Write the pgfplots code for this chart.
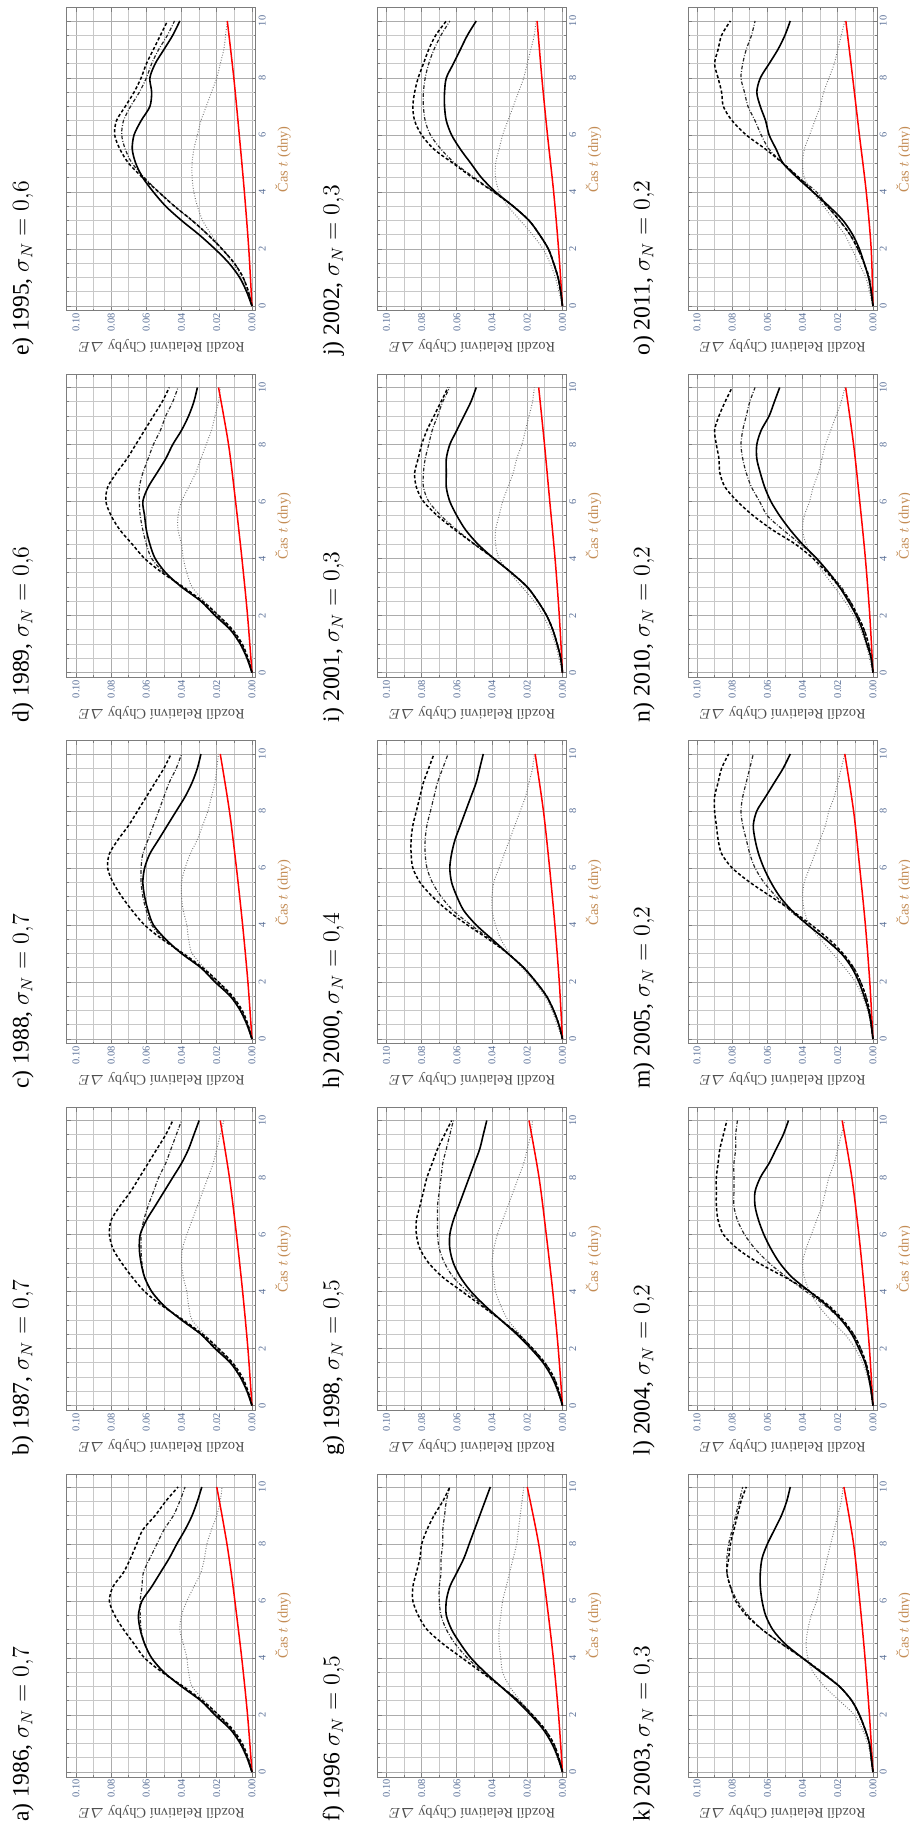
\documentclass[border=0pt]{standalone}
\usepackage{amsmath}
\usepackage{fontspec}
\setmainfont{Liberation Serif}
\usepackage{pgfplots}
\usepackage{pgfplotstable}
\pgfplotsset{compat=1.18}

\definecolor{ticknum}{RGB}{88,110,150}
\definecolor{labelgray}{RGB}{80,80,80}
\definecolor{caslabel}{RGB}{195,140,85}
\definecolor{gridmaj}{RGB}{172,172,172}
\definecolor{gridmin}{RGB}{200,200,200}
\definecolor{axisgray}{RGB}{125,125,125}
\definecolor{dotgray}{RGB}{115,115,115}

\newcommand\tickfont{\fontsize{5.2}{6}\selectfont}
\newcommand\labelfont{\fontsize{7.2}{8}\selectfont}
\newcommand\titlefont{\fontsize{11.8}{13}\selectfont}

% each panel: rows t (days) and the four black/grey curves of Delta E
% s = solid, d = dashed, c = dash-dotted, p = dotted
\pgfplotstableread{
n r0 r1 r2 r3 r4 r5 r6 r7 r8 r9 r10 r11 r12 r13 r14 r15 r16 r17 r18 r19 r20
t 0 0.5 1 1.5 2 2.5 3 3.5 4 4.5 5 5.5 6 6.5 7 7.5 8 8.5 9 9.5 10
s 0 0.0028 0.0066 0.0123 0.021 0.029 0.040 0.050 0.057 0.061 0.0635 0.0645 0.0625 0.057 0.052 0.047 0.0427 0.038 0.034 0.031 0.0285
d 0 0.0022 0.0055 0.011 0.019 0.028 0.039 0.051 0.061 0.067 0.073 0.078 0.081 0.079 0.073 0.069 0.0655 0.062 0.055 0.049 0.042
c 0 0.0025 0.006 0.0115 0.020 0.029 0.040 0.050 0.057 0.061 0.063 0.0635 0.0635 0.0625 0.0617 0.058 0.054 0.050 0.0446 0.041 0.038
p 0 0.003 0.007 0.012 0.019 0.027 0.034 0.036 0.037 0.039 0.041 0.040 0.037 0.033 0.029 0.027 0.0256 0.023 0.020 0.018 0.017
}\rawa
\pgfplotstableread{
n r0 r1 r2 r3 r4 r5 r6 r7 r8 r9 r10 r11 r12 r13 r14 r15 r16 r17 r18 r19 r20
t 0 0.5 1 1.5 2 2.5 3 3.5 4 4.5 5 5.5 6 6.5 7 7.5 8 8.5 9 9.5 10
s 0 0.0028 0.0066 0.0123 0.021 0.029 0.040 0.050 0.057 0.061 0.063 0.064 0.0635 0.060 0.055 0.050 0.045 0.040 0.036 0.033 0.030
d 0 0.0022 0.0055 0.011 0.019 0.028 0.039 0.051 0.061 0.068 0.074 0.079 0.081 0.080 0.075 0.069 0.064 0.059 0.054 0.049 0.045
c 0 0.0025 0.006 0.0115 0.020 0.029 0.040 0.050 0.057 0.061 0.0625 0.063 0.063 0.0615 0.059 0.056 0.053 0.049 0.046 0.043 0.040
p 0 0.003 0.007 0.012 0.019 0.027 0.034 0.036 0.037 0.039 0.040 0.0395 0.037 0.034 0.031 0.028 0.025 0.022 0.020 0.018 0.016
}\rawb
\pgfplotstableread{
n r0 r1 r2 r3 r4 r5 r6 r7 r8 r9 r10 r11 r12 r13 r14 r15 r16 r17 r18 r19 r20
t 0 0.5 1 1.5 2 2.5 3 3.5 4 4.5 5 5.5 6 6.5 7 7.5 8 8.5 9 9.5 10
s 0 0.0028 0.0066 0.0123 0.021 0.029 0.040 0.049 0.056 0.059 0.061 0.062 0.061 0.058 0.053 0.048 0.043 0.038 0.034 0.031 0.029
d 0 0.0022 0.0055 0.011 0.019 0.028 0.039 0.051 0.061 0.068 0.074 0.079 0.082 0.081 0.076 0.070 0.065 0.060 0.055 0.050 0.046
c 0 0.0025 0.006 0.0115 0.020 0.029 0.040 0.050 0.057 0.060 0.062 0.063 0.063 0.062 0.059 0.056 0.053 0.050 0.047 0.043 0.040
p 0 0.003 0.007 0.012 0.019 0.027 0.034 0.036 0.037 0.039 0.040 0.040 0.038 0.035 0.031 0.028 0.025 0.023 0.021 0.020 0.019
}\rawc
\pgfplotstableread{
n r0 r1 r2 r3 r4 r5 r6 r7 r8 r9 r10 r11 r12 r13 r14 r15 r16 r17 r18 r19 r20
t 0 0.5 1 1.5 2 2.5 3 3.5 4 4.5 5 5.5 6 6.5 7 7.5 8 8.5 9 9.5 10
s 0 0.0028 0.0066 0.0123 0.021 0.029 0.040 0.049 0.055 0.058 0.060 0.061 0.062 0.059 0.054 0.049 0.045 0.040 0.036 0.033 0.031
d 0 0.0022 0.0055 0.011 0.019 0.028 0.039 0.051 0.061 0.068 0.075 0.080 0.083 0.082 0.077 0.071 0.066 0.061 0.056 0.051 0.047
c 0 0.0025 0.006 0.0115 0.020 0.029 0.040 0.050 0.057 0.060 0.062 0.0635 0.064 0.064 0.062 0.059 0.056 0.052 0.049 0.045 0.042
p 0 0.003 0.007 0.012 0.019 0.027 0.034 0.037 0.039 0.040 0.042 0.042 0.040 0.036 0.032 0.029 0.026 0.023 0.021 0.019 0.018
}\rawd
\pgfplotstableread{
n r0 r1 r2 r3 r4 r5 r6 r7 r8 r9 r10 r11 r12 r13 r14 r15 r16 r17 r18 r19 r20
t 0 0.5 1 1.5 2 2.5 3 3.5 4 4.5 5 5.5 6 6.5 7 7.5 8 8.5 9 9.5 10
s 0 0.003 0.007 0.013 0.021 0.030 0.040 0.049 0.056 0.062 0.066 0.068 0.067 0.063 0.058 0.057 0.058 0.055 0.050 0.045 0.041
d 0 0.002 0.005 0.010 0.017 0.025 0.034 0.044 0.053 0.062 0.070 0.075 0.078 0.077 0.072 0.067 0.063 0.060 0.056 0.052 0.048
c 0 0.002 0.005 0.010 0.017 0.025 0.034 0.044 0.053 0.061 0.068 0.072 0.074 0.073 0.069 0.064 0.060 0.057 0.053 0.048 0.044
p 0 0.003 0.006 0.011 0.017 0.023 0.028 0.031 0.033 0.034 0.034 0.033 0.031 0.029 0.026 0.023 0.020 0.018 0.016 0.015 0.014
}\rawe
\pgfplotstableread{
n r0 r1 r2 r3 r4 r5 r6 r7 r8 r9 r10 r11 r12 r13 r14 r15 r16 r17 r18 r19 r20
t 0 0.5 1 1.5 2 2.5 3 3.5 4 4.5 5 5.5 6 6.5 7 7.5 8 8.5 9 9.5 10
s 0 0.0025 0.006 0.011 0.018 0.026 0.035 0.044 0.052 0.058 0.063 0.066 0.066 0.064 0.060 0.056 0.053 0.050 0.047 0.044 0.041
d 0 0.002 0.005 0.010 0.017 0.025 0.035 0.046 0.057 0.068 0.077 0.082 0.085 0.085 0.083 0.081 0.080 0.077 0.073 0.068 0.064
c 0 0.002 0.005 0.010 0.017 0.025 0.035 0.045 0.054 0.061 0.066 0.069 0.070 0.070 0.069 0.069 0.068 0.068 0.067 0.066 0.064
p 0 0.003 0.006 0.011 0.017 0.024 0.030 0.034 0.035 0.036 0.036 0.035 0.034 0.032 0.030 0.028 0.026 0.025 0.024 0.023 0.022
}\rawf
\pgfplotstableread{
n r0 r1 r2 r3 r4 r5 r6 r7 r8 r9 r10 r11 r12 r13 r14 r15 r16 r17 r18 r19 r20
t 0 0.5 1 1.5 2 2.5 3 3.5 4 4.5 5 5.5 6 6.5 7 7.5 8 8.5 9 9.5 10
s 0 0.0025 0.006 0.011 0.018 0.026 0.035 0.044 0.052 0.058 0.062 0.064 0.064 0.062 0.059 0.056 0.053 0.050 0.047 0.045 0.043
d 0 0.002 0.005 0.010 0.017 0.025 0.035 0.046 0.057 0.068 0.076 0.081 0.083 0.083 0.081 0.079 0.077 0.074 0.071 0.067 0.063
c 0 0.002 0.005 0.010 0.017 0.025 0.035 0.045 0.054 0.062 0.067 0.070 0.071 0.071 0.071 0.070 0.069 0.068 0.066 0.064 0.062
p 0 0.003 0.006 0.011 0.017 0.024 0.031 0.035 0.038 0.039 0.040 0.039 0.037 0.034 0.031 0.028 0.025 0.022 0.020 0.018 0.017
}\rawg
\pgfplotstableread{
n r0 r1 r2 r3 r4 r5 r6 r7 r8 r9 r10 r11 r12 r13 r14 r15 r16 r17 r18 r19 r20
t 0 0.5 1 1.5 2 2.5 3 3.5 4 4.5 5 5.5 6 6.5 7 7.5 8 8.5 9 9.5 10
s 0 0.002 0.005 0.009 0.015 0.022 0.031 0.040 0.049 0.056 0.060 0.063 0.064 0.063 0.061 0.058 0.055 0.052 0.049 0.047 0.045
d 0 0.002 0.005 0.009 0.015 0.022 0.031 0.042 0.054 0.065 0.074 0.081 0.085 0.086 0.086 0.085 0.083 0.081 0.079 0.076 0.073
c 0 0.002 0.005 0.009 0.015 0.022 0.031 0.041 0.052 0.062 0.069 0.074 0.077 0.078 0.078 0.077 0.075 0.073 0.071 0.068 0.065
p 0 0.003 0.006 0.010 0.016 0.023 0.030 0.035 0.038 0.040 0.040 0.039 0.036 0.033 0.030 0.027 0.024 0.021 0.019 0.017 0.016
}\rawh
\pgfplotstableread{
n r0 r1 r2 r3 r4 r5 r6 r7 r8 r9 r10 r11 r12 r13 r14 r15 r16 r17 r18 r19 r20
t 0 0.5 1 1.5 2 2.5 3 3.5 4 4.5 5 5.5 6 6.5 7 7.5 8 8.5 9 9.5 10
s 0 0.001 0.003 0.0055 0.009 0.014 0.020 0.029 0.039 0.048 0.055 0.060 0.064 0.066 0.066 0.066 0.064 0.060 0.056 0.052 0.049
d 0 0.001 0.003 0.0055 0.009 0.014 0.020 0.029 0.039 0.050 0.061 0.071 0.079 0.083 0.084 0.082 0.080 0.077 0.073 0.069 0.065
c 0 0.001 0.003 0.0055 0.009 0.014 0.020 0.029 0.039 0.050 0.060 0.069 0.076 0.079 0.079 0.078 0.076 0.074 0.071 0.068 0.064
p 0 0.002 0.004 0.007 0.011 0.016 0.023 0.030 0.036 0.038 0.038 0.036 0.034 0.031 0.028 0.026 0.023 0.021 0.019 0.017 0.016
}\rawi
\pgfplotstableread{
n r0 r1 r2 r3 r4 r5 r6 r7 r8 r9 r10 r11 r12 r13 r14 r15 r16 r17 r18 r19 r20
t 0 0.5 1 1.5 2 2.5 3 3.5 4 4.5 5 5.5 6 6.5 7 7.5 8 8.5 9 9.5 10
s 0 0.001 0.0025 0.005 0.008 0.013 0.019 0.028 0.038 0.046 0.052 0.058 0.063 0.066 0.067 0.067 0.066 0.062 0.058 0.054 0.049
d 0 0.001 0.0025 0.005 0.008 0.013 0.019 0.028 0.039 0.051 0.062 0.073 0.080 0.084 0.085 0.084 0.082 0.079 0.076 0.072 0.066
c 0 0.001 0.0025 0.005 0.008 0.013 0.019 0.028 0.039 0.050 0.061 0.069 0.075 0.078 0.079 0.079 0.078 0.076 0.073 0.069 0.064
p 0 0.002 0.004 0.007 0.011 0.017 0.024 0.031 0.036 0.038 0.038 0.036 0.034 0.031 0.028 0.025 0.022 0.020 0.018 0.016 0.015
}\rawj
\pgfplotstableread{
n r0 r1 r2 r3 r4 r5 r6 r7 r8 r9 r10 r11 r12 r13 r14 r15 r16 r17 r18 r19 r20
t 0 0.5 1 1.5 2 2.5 3 3.5 4 4.5 5 5.5 6 6.5 7 7.5 8 8.5 9 9.5 10
s 0 0.001 0.002 0.0045 0.0076 0.012 0.019 0.0295 0.040 0.050 0.057 0.061 0.063 0.064 0.064 0.063 0.060 0.056 0.052 0.049 0.047
d 0 0.001 0.002 0.0045 0.0078 0.012 0.019 0.029 0.040 0.052 0.063 0.072 0.078 0.081 0.083 0.082 0.081 0.079 0.077 0.075 0.072
c 0 0.001 0.002 0.0045 0.0078 0.012 0.019 0.029 0.040 0.052 0.063 0.071 0.077 0.081 0.083 0.083 0.082 0.080 0.078 0.076 0.074
p 0 0.001 0.003 0.006 0.0105 0.019 0.0276 0.034 0.037 0.038 0.037 0.035 0.032 0.030 0.028 0.026 0.024 0.022 0.020 0.018 0.017
}\rawk
\pgfplotstableread{
n r0 r1 r2 r3 r4 r5 r6 r7 r8 r9 r10 r11 r12 r13 r14 r15 r16 r17 r18 r19 r20
t 0 0.5 1 1.5 2 2.5 3 3.5 4 4.5 5 5.5 6 6.5 7 7.5 8 8.5 9 9.5 10
s 0 0.001 0.0025 0.0045 0.008 0.012 0.018 0.026 0.036 0.046 0.053 0.058 0.062 0.065 0.067 0.067 0.064 0.059 0.055 0.051 0.048
d 0 0.001 0.002 0.004 0.007 0.011 0.017 0.025 0.036 0.050 0.065 0.077 0.085 0.088 0.089 0.089 0.089 0.088 0.087 0.085 0.083
c 0 0.001 0.002 0.004 0.007 0.011 0.018 0.027 0.038 0.049 0.059 0.067 0.073 0.077 0.079 0.079 0.079 0.079 0.078 0.078 0.077
p 0 0.001 0.003 0.006 0.010 0.016 0.024 0.031 0.036 0.039 0.040 0.038 0.035 0.032 0.029 0.027 0.025 0.022 0.020 0.018 0.016
}\rawl
\pgfplotstableread{
n r0 r1 r2 r3 r4 r5 r6 r7 r8 r9 r10 r11 r12 r13 r14 r15 r16 r17 r18 r19 r20
t 0 0.5 1 1.5 2 2.5 3 3.5 4 4.5 5 5.5 6 6.5 7 7.5 8 8.5 9 9.5 10
s 0 0.001 0.0025 0.005 0.008 0.012 0.018 0.027 0.037 0.046 0.053 0.058 0.062 0.065 0.067 0.068 0.066 0.061 0.056 0.051 0.047
d 0 0.001 0.002 0.004 0.007 0.011 0.017 0.025 0.035 0.046 0.058 0.070 0.080 0.086 0.088 0.089 0.090 0.090 0.088 0.086 0.082
c 0 0.001 0.002 0.004 0.007 0.011 0.018 0.027 0.037 0.047 0.055 0.062 0.067 0.070 0.072 0.074 0.075 0.074 0.072 0.070 0.068
p 0 0.001 0.003 0.006 0.010 0.016 0.023 0.030 0.036 0.039 0.040 0.039 0.036 0.033 0.030 0.027 0.025 0.022 0.020 0.018 0.016
}\rawm
\pgfplotstableread{
n r0 r1 r2 r3 r4 r5 r6 r7 r8 r9 r10 r11 r12 r13 r14 r15 r16 r17 r18 r19 r20
t 0 0.5 1 1.5 2 2.5 3 3.5 4 4.5 5 5.5 6 6.5 7 7.5 8 8.5 9 9.5 10
s 0 0.001 0.0035 0.006 0.0095 0.014 0.019 0.025 0.032 0.040 0.047 0.053 0.058 0.0615 0.064 0.066 0.066 0.0635 0.059 0.056 0.053
d 0 0.001 0.0025 0.005 0.0087 0.013 0.019 0.026 0.034 0.044 0.057 0.068 0.077 0.084 0.087 0.0875 0.089 0.090 0.0875 0.084 0.080
c 0 0.001 0.0025 0.005 0.0087 0.013 0.018 0.025 0.032 0.041 0.051 0.060 0.0644 0.069 0.072 0.074 0.075 0.074 0.072 0.070 0.067
p 0 0.002 0.004 0.007 0.011 0.016 0.022 0.028 0.034 0.038 0.040 0.039 0.036 0.034 0.031 0.029 0.027 0.024 0.021 0.018 0.016
}\rawn
\pgfplotstableread{
n r0 r1 r2 r3 r4 r5 r6 r7 r8 r9 r10 r11 r12 r13 r14 r15 r16 r17 r18 r19 r20
t 0 0.5 1 1.5 2 2.5 3 3.5 4 4.5 5 5.5 6 6.5 7 7.5 8 8.5 9 9.5 10
s 0 0.001 0.0025 0.005 0.0077 0.0115 0.017 0.025 0.034 0.043 0.051 0.055 0.059 0.061 0.064 0.066 0.064 0.059 0.054 0.050 0.047
d 0 0.001 0.0025 0.005 0.0085 0.013 0.019 0.026 0.034 0.042 0.051 0.061 0.072 0.080 0.085 0.086 0.088 0.090 0.088 0.086 0.081
c 0 0.001 0.002 0.005 0.0087 0.013 0.019 0.026 0.032 0.042 0.051 0.059 0.0635 0.067 0.071 0.073 0.075 0.074 0.072 0.069 0.067
p 0 0.002 0.004 0.008 0.012 0.016 0.022 0.028 0.034 0.039 0.040 0.039 0.036 0.033 0.030 0.028 0.025 0.022 0.020 0.018 0.016
}\rawo

% turn the row-wise series into columns t, s, d, c, p
\pgfplotstabletranspose[colnames from=n]\taba\rawa
\pgfplotstabletranspose[colnames from=n]\tabb\rawb
\pgfplotstabletranspose[colnames from=n]\tabc\rawc
\pgfplotstabletranspose[colnames from=n]\tabd\rawd
\pgfplotstabletranspose[colnames from=n]\tabe\rawe
\pgfplotstabletranspose[colnames from=n]\tabf\rawf
\pgfplotstabletranspose[colnames from=n]\tabg\rawg
\pgfplotstabletranspose[colnames from=n]\tabh\rawh
\pgfplotstabletranspose[colnames from=n]\tabi\rawi
\pgfplotstabletranspose[colnames from=n]\tabj\rawj
\pgfplotstabletranspose[colnames from=n]\tabk\rawk
\pgfplotstabletranspose[colnames from=n]\tabl\rawl
\pgfplotstabletranspose[colnames from=n]\tabm\rawm
\pgfplotstabletranspose[colnames from=n]\tabn\rawn
\pgfplotstabletranspose[colnames from=n]\tabo\rawo

\pgfplotsset{
  solidcurve/.style={black, line width=0.8pt, smooth},
  dashcurve/.style={black, line width=0.75pt, dash pattern=on 1.6pt off 1.1pt, smooth},
  dashdotcurve/.style={black!85, line width=0.6pt, dash pattern=on 1.8pt off 0.9pt on 0.4pt off 0.9pt, smooth},
  dotcurve/.style={dotgray, line width=0.5pt, dash pattern=on 0.4pt off 0.9pt, smooth},
  redline/.style={red, line width=0.75pt, smooth},
  panel/.style={
    scale only axis, width=94.5pt, height=151.5pt, anchor=south west,
    x dir=reverse,
    xmin=-0.0023, xmax=0.1051, ymin=-0.175, ymax=10.456,
    xtick={0,0.02,0.04,0.06,0.08,0.1},
    minor xtick={0.01,0.03,0.05,0.07,0.09},
    ytick={0,2,4,6,8,10},
    minor ytick={0.5,1,1.5,2.5,3,3.5,4.5,5,5.5,6.5,7,7.5,8.5,9,9.5},
    grid=both,
    major grid style={draw=gridmaj, line width=0.45pt},
    minor grid style={draw=gridmin, line width=0.4pt},
    axis line style={draw=axisgray, line width=0.5pt},
    tick style={draw=axisgray, line width=0.4pt},
    tick align=inside,
    major tick length=2.2pt, minor tick length=1.2pt,
    scaled x ticks=false,
    no markers,
    xticklabel style={/pgf/number format/.cd, fixed, fixed zerofill, precision=2,
      assume math mode=true, /tikz/.cd, rotate=90, anchor=east, inner sep=1pt,
      font=\tickfont, text=ticknum},
    yticklabel pos=right,
    yticklabel style={/pgf/number format/assume math mode=true, rotate=90,
      anchor=north, inner sep=1.2pt, font=\tickfont, text=ticknum},
    xlabel={Rozdíl Relativní Chyby $\varDelta E$},
    ylabel={Čas $t$ (dny)},
    every axis x label/.style={at={(axis description cs:0.5,0)}, yshift=-17.5pt,
      rotate=180, anchor=center, font=\labelfont, text=labelgray},
    every axis y label/.style={at={(axis description cs:1,0.5)}, xshift=13.5pt,
      rotate=90, anchor=center, font=\labelfont, text=caslabel},
    every axis title/.style={at={(axis description cs:0,0)}, xshift=-22pt,
      yshift=-22.5pt, rotate=90, anchor=west, inner sep=0pt, font=\titlefont},
  },
}

% #1,#2 lower left corner of the box, #3 title, #4 table, #5 red curve
\newcommand{\panel}[5]{%
  \begin{axis}[panel, at={(#1,#2)}, title={#3}]
    \addplot[dotcurve] table[x=p, y=t] {#4};
    \addplot[redline] coordinates {#5};
    \addplot[dashdotcurve] table[x=c, y=t] {#4};
    \addplot[dashcurve] table[x=d, y=t] {#4};
    \addplot[solidcurve] table[x=s, y=t] {#4};
  \end{axis}}

\begin{document}
\begin{tikzpicture}
\useasboundingbox (0,0) rectangle (455pt,916pt);

% first column
\panel{33.5pt}{27.5pt}{a) 1986, $\sigma_N = 0{,}7$}{\taba}
  {(0,0) (0.0025,2) (0.0058,4) (0.0097,6) (0.0118,7) (0.0142,8) (0.017,9) (0.020,10)}
\panel{33.5pt}{210.75pt}{b) 1987, $\sigma_N = 0{,}7$}{\tabb}
  {(0,0) (0.0023,2) (0.0053,4) (0.0088,6) (0.0128,8) (0.018,10)}
\panel{33.5pt}{394pt}{c) 1988, $\sigma_N = 0{,}7$}{\tabc}
  {(0,0) (0.0023,2) (0.0053,4) (0.0088,6) (0.0128,8) (0.018,10)}
\panel{33.5pt}{577.25pt}{d) 1989, $\sigma_N = 0{,}6$}{\tabd}
  {(0,0) (0.0025,2) (0.0057,4) (0.0093,6) (0.0133,8) (0.019,10)}
\panel{33.5pt}{760.5pt}{e) 1995, $\sigma_N = 0{,}6$}{\tabe}
  {(0,0) (0.0018,2) (0.0043,4) (0.0072,6) (0.0103,8) (0.014,10)}

% second column
\panel{188.75pt}{27.5pt}{f) 1996 $\sigma_N = 0{,}5$}{\tabf}
  {(0,0) (0.0022,2) (0.0052,4) (0.009,6) (0.0135,8) (0.020,10)}
\panel{188.75pt}{210.75pt}{g) 1998, $\sigma_N = 0{,}5$}{\tabg}
  {(0,0) (0.0024,2) (0.0055,4) (0.0092,6) (0.0133,8) (0.019,10)}
\panel{188.75pt}{394pt}{h) 2000, $\sigma_N = 0{,}4$}{\tabh}
  {(0,0) (0.0018,2) (0.0043,4) (0.0073,6) (0.0108,8) (0.0155,10)}
\panel{188.75pt}{577.25pt}{i) 2001, $\sigma_N = 0{,}3$}{\tabi}
  {(0,0) (0.0018,2) (0.0042,4) (0.0072,6) (0.0102,8) (0.0135,10)}
\panel{188.75pt}{760.5pt}{j) 2002, $\sigma_N = 0{,}3$}{\tabj}
  {(0,0) (0.0022,2) (0.005,4) (0.0085,6) (0.0117,8) (0.0144,10)}

% third column
\panel{344pt}{27.5pt}{k) 2003, $\sigma_N = 0{,}3$}{\tabk}
  {(0,0) (0.002,2) (0.0045,4) (0.0075,6) (0.011,8) (0.0165,10)}
\panel{344pt}{210.75pt}{l) 2004, $\sigma_N = 0{,}2$}{\tabl}
  {(0,0) (0.002,2) (0.0048,4) (0.008,6) (0.012,8) (0.0175,10)}
\panel{344pt}{394pt}{m) 2005, $\sigma_N = 0{,}2$}{\tabm}
  {(0,0) (0.0018,2) (0.0043,4) (0.0075,6) (0.011,8) (0.016,10)}
\panel{344pt}{577.25pt}{n) 2010, $\sigma_N = 0{,}2$}{\tabn}
  {(0,0) (0.0018,2) (0.0043,4) (0.0075,6) (0.011,8) (0.0155,10)}
\panel{344pt}{760.5pt}{o) 2011, $\sigma_N = 0{,}2$}{\tabo}
  {(0,0) (0.001,2) (0.0038,4) (0.0077,6) (0.0115,8) (0.0154,10)}
\end{tikzpicture}
\end{document}
